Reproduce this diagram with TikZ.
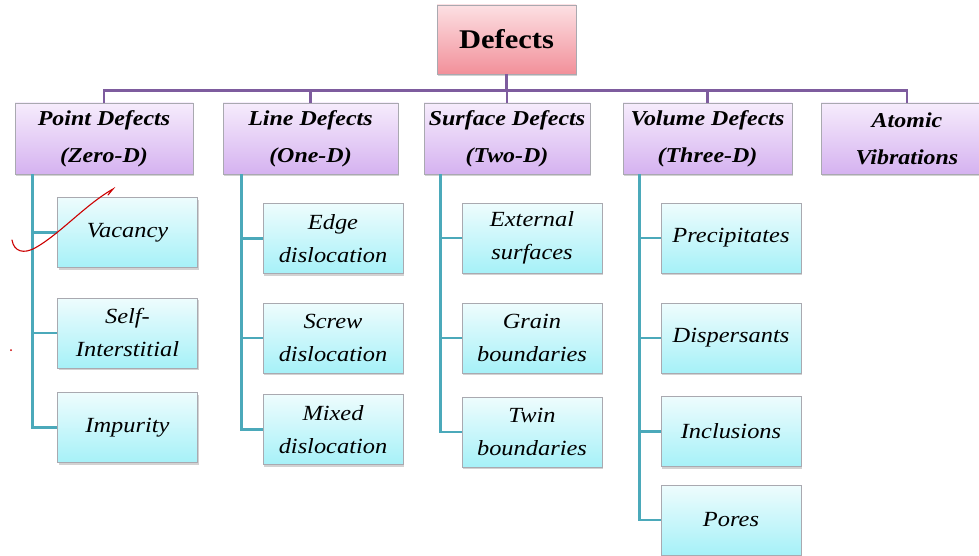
\documentclass[tikz,border=0pt]{standalone}
\usepackage{fontspec}
\setmainfont{Liberation Serif}
\newfontfamily\widefont[FakeStretch=1.13]{Liberation Serif}
\usetikzlibrary{shadows,calc}
\definecolor{pinkT}{HTML}{FCE0E3}
\definecolor{pinkB}{HTML}{F2909A}
\definecolor{purT}{HTML}{F6ECFC}
\definecolor{purB}{HTML}{D5B2F0}
\definecolor{cyT}{HTML}{EEFCFD}
\definecolor{cyB}{HTML}{A6F1F8}
\definecolor{purLine}{HTML}{7E5C9E}
\definecolor{cyLine}{HTML}{4BA9BA}
\definecolor{boxEdge}{HTML}{A9A9B0}
\tikzset{
  basebox/.style={draw=boxEdge, line width=0.8pt, align=center, inner sep=0pt,
    drop shadow={opacity=0.35, shadow xshift=1.2pt, shadow yshift=-2pt}},
  rootbox/.style={basebox, top color=pinkT, bottom color=pinkB,
    minimum width=139pt, minimum height=69pt,
    font=\widefont\bfseries\fontsize{27}{30}\selectfont},
  catbox/.style={basebox, top color=purT, bottom color=purB,
    minimum height=71pt,
    font=\widefont\bfseries\itshape\fontsize{21.2}{37}\selectfont},
  itembox/.style={basebox, top color=cyT, bottom color=cyB,
    minimum width=140pt, minimum height=70pt,
    font=\widefont\itshape\fontsize{21.6}{33}\selectfont},
  purconn/.style={draw=purLine, line width=2.6pt},
  cyconn/.style={draw=cyLine, line width=2.6pt},
}
\begin{document}
\begin{tikzpicture}[x=1pt,y=-1pt]
\clip (0,0) rectangle (979,556);
\fill[white] (0,0) rectangle (979,556);

% root
\node[rootbox] (root) at (506.5,39.5) {Defects};

% categories
\node[catbox, minimum width=178pt] (pd) at (104,138.5) {Point Defects\\(Zero-D)};
\node[catbox, minimum width=175pt] (ld) at (310.5,138.5) {Line Defects\\(One-D)};
\node[catbox, minimum width=166pt] (sd) at (507,138.5) {Surface Defects\\(Two-D)};
\node[catbox, minimum width=169pt] (vd) at (707.5,138.5) {Volume Defects\\(Three-D)};
\node[catbox, minimum width=172pt] (av) at (907,138.5) {Atomic\\Vibrations};

% bus
\coordinate (bus) at ($(root.south)+(0,16)$);
\foreach \n in {pd,ld,sd,vd,av}{
  \draw[purconn] (root.south) -- (bus) -| (\n.north);
}

% point defects children
\node[itembox] (vac) at (127.5,232.5) {Vacancy};
\node[itembox] (sel) at (127.5,333) {Self-\\Interstitial};
\node[itembox] (imp) at (127.5,427.5) {Impurity};
% line defects children
\node[itembox] (edg) at (333,238.5) {Edge\\dislocation};
\node[itembox] (scr) at (333,338) {Screw\\dislocation};
\node[itembox] (mix) at (333,429.5) {Mixed\\dislocation};
% surface defects children
\node[itembox] (ext) at (532,238) {External\\surfaces};
\node[itembox] (gra) at (532,338) {Grain\\boundaries};
\node[itembox] (twi) at (532,432) {Twin\\boundaries};
% volume defects children
\node[itembox] (pre) at (731,238) {Precipitates};
\node[itembox] (dis) at (731,338) {Dispersants};
\node[itembox] (inc) at (731,431.5) {Inclusions};
\node[itembox] (por) at (731,520) {Pores};

% connectors
\coordinate (pdt) at ($(pd.south west)+(18,0)$);
\coordinate (ldt) at ($(ld.south west)+(19,0)$);
\coordinate (sdt) at ($(sd.south west)+(17,0)$);
\coordinate (vdt) at ($(vd.south west)+(17,0)$);
\foreach \c in {vac,sel,imp}{\draw[cyconn] (pdt) |- (\c.west);}
\foreach \c in {edg,scr,mix}{\draw[cyconn] (ldt) |- (\c.west);}
\foreach \c in {ext,gra,twi}{\draw[cyconn] (sdt) |- (\c.west);}
\foreach \c in {pre,dis,inc,por}{\draw[cyconn] (vdt) |- (\c.west);}

% red handwritten annotation
\draw[red!80!black, line width=1.1pt, line cap=round]
  (12,240) .. controls (14,252) and (24,254) .. (35,248)
  .. controls (60,234) and (85,205) .. (113,189)
  -- (108,195);
\fill[red!80!black] (11,350) circle (1pt);
\end{tikzpicture}
\end{document}
